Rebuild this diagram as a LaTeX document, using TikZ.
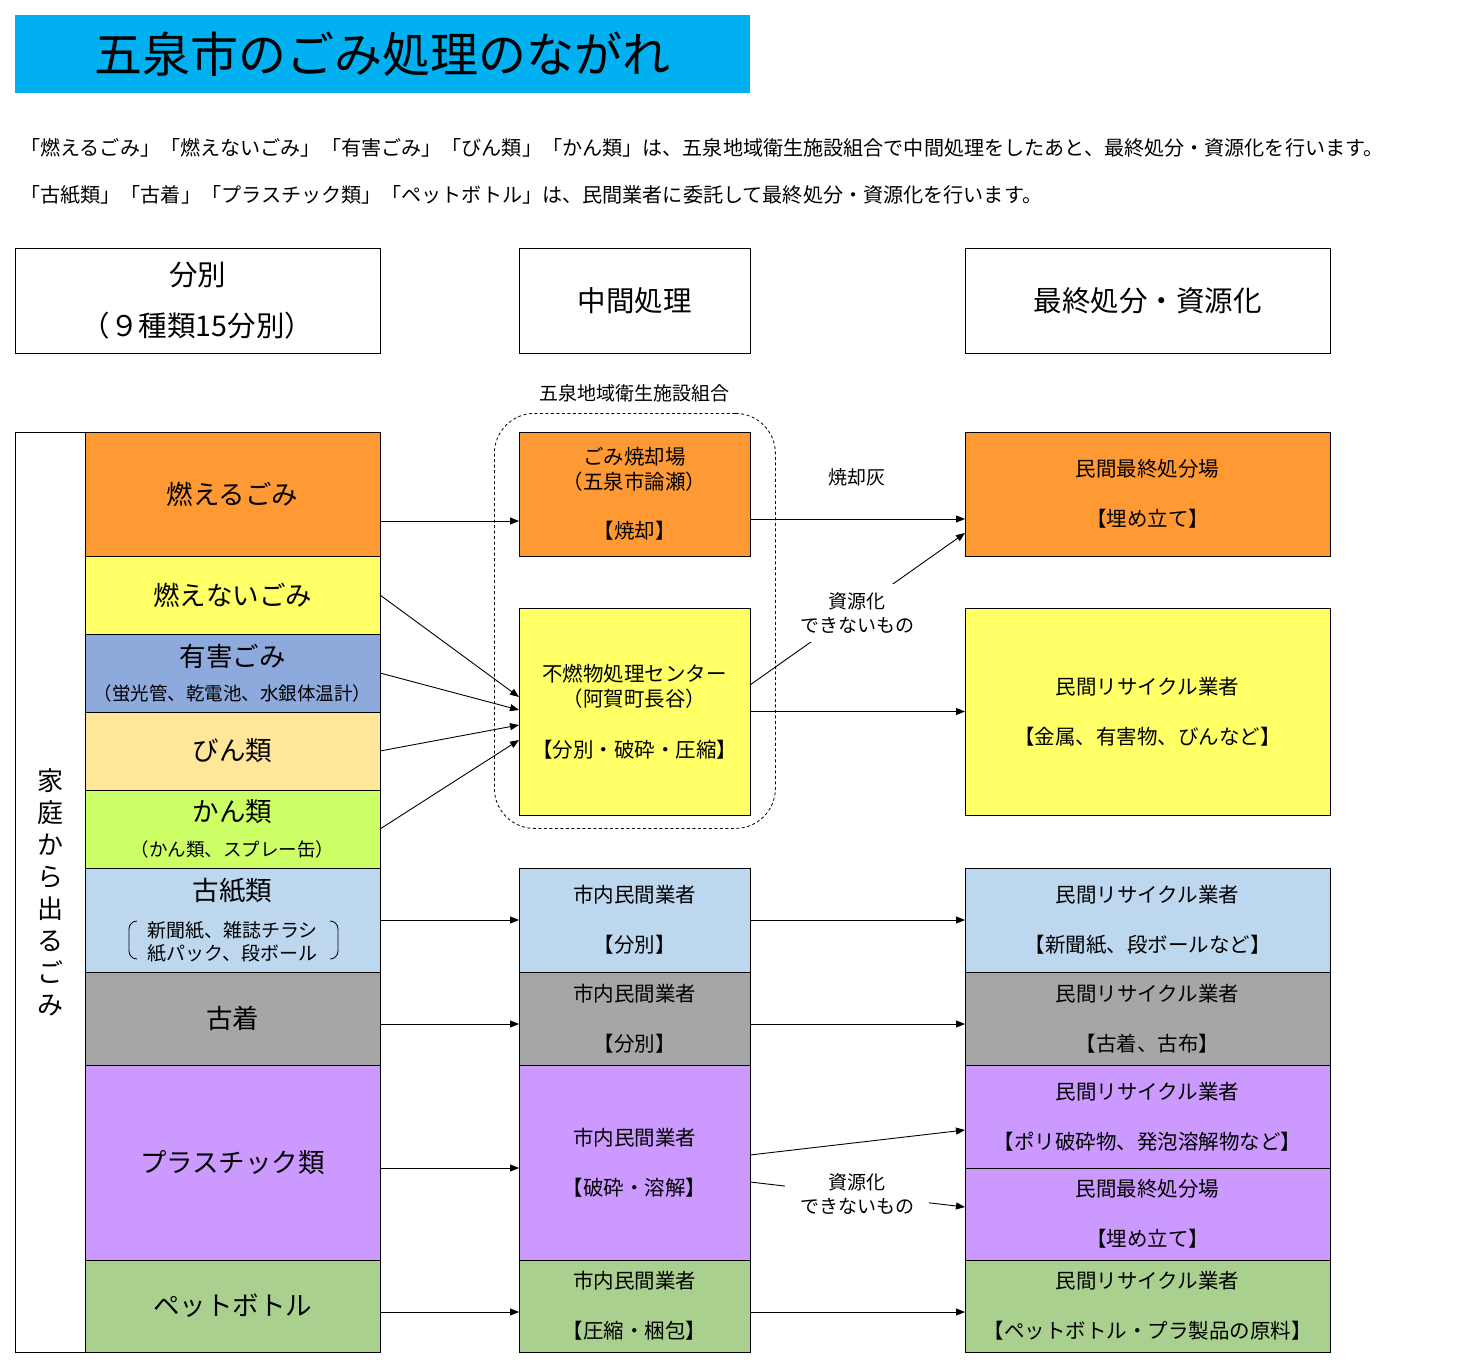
\documentclass[tikz,border=0pt]{standalone}
\usepackage{fontspec}
\setmainfont{Noto Sans CJK JP}
\usetikzlibrary{arrows.meta}
\definecolor{cTitle}{RGB}{0,176,240}
\definecolor{cOrange}{RGB}{255,153,51}
\definecolor{cYellow}{RGB}{255,255,102}
\definecolor{cBlue}{RGB}{142,169,219}
\definecolor{cBin}{RGB}{255,230,153}
\definecolor{cKan}{RGB}{204,255,102}
\definecolor{cPaper}{RGB}{189,215,238}
\definecolor{cGray}{RGB}{166,166,166}
\definecolor{cPurple}{RGB}{204,153,255}
\definecolor{cGreen}{RGB}{169,208,142}
\newcommand\szTitle{\fontsize{48}{50}\selectfont}
\newcommand\szDesc{\fontsize{20.1}{24}\selectfont}
\newcommand\szHead{\fontsize{28.5}{51}\selectfont}
\newcommand\szCat{\fontsize{26.5}{32}\selectfont}
\newcommand\szBox{\fontsize{20.5}{24.8}\selectfont}
\newcommand\szLbl{\fontsize{19}{24}\selectfont}
\tikzset{
  box/.style={draw=black, line width=1pt, anchor=north west, inner sep=0pt, outer sep=0pt, align=center},
  catbox/.style={box, minimum width=295pt, font=\szCat},
  midbox/.style={box, minimum width=231pt, font=\szBox},
  rbox/.style={box, minimum width=365pt, font=\szBox},
  arr/.style={-{Triangle[length=9pt,width=7pt]}, line width=0.9pt},
  lbl/.style={font=\szLbl, align=center, inner sep=0pt},
}
\begin{document}
\begin{tikzpicture}[x=1pt,y=-1pt]
\useasboundingbox (0,0) rectangle (1470,1367);
% title
\node[fill=cTitle, minimum width=735pt, minimum height=78pt, anchor=north west, inner sep=0pt, font=\szTitle] (title) at (15,15) {五泉市のごみ処理のながれ};
% description
\node[anchor=west, font=\szDesc, inner sep=0pt] (desc1) at (20,148) {「燃えるごみ」「燃えないごみ」「有害ごみ」「びん類」「かん類」は、五泉地域衛生施設組合で中間処理をしたあと、最終処分・資源化を行います。};
\node[anchor=west, font=\szDesc, inner sep=0pt] (desc2) at (20,195) {「古紙類」「古着」「プラスチック類」「ペットボトル」は、民間業者に委託して最終処分・資源化を行います。};
% headers
\node[box, minimum width=365pt, minimum height=104pt, font=\szHead] (h1) at (15,249) {分別\\（９種類15分別）};
\node[box, minimum width=231pt, minimum height=104pt, font=\szHead] (h2) at (519,249) {中間処理};
\node[box, minimum width=365pt, minimum height=104pt, font=\szHead] (h3) at (965,249) {最終処分・資源化};
% left outer column
\node[box, minimum width=70pt, minimum height=920pt] (home) at (15,432) {};
\node[font=\fontsize{26}{32}\selectfont, align=center, inner sep=0pt] (homelbl) at (home.center) {家\\庭\\か\\ら\\出\\る\\ご\\み};
% categories
\node[catbox, fill=cOrange, minimum height=124pt] (moe) at (85,432) {燃えるごみ};
\node[catbox, fill=cYellow, minimum height=78pt] (funen) at (85,556) {燃えないごみ};
\node[catbox, fill=cBlue, minimum height=78pt, font=\fontsize{18.5}{34}\selectfont] (yugai) at (85,634) {{\szCat 有害ごみ}\\（蛍光管、乾電池、水銀体温計）};
\node[catbox, fill=cBin, minimum height=78pt] (bin) at (85,712) {びん類};
\node[catbox, fill=cKan, minimum height=78pt, font=\fontsize{18.5}{35}\selectfont] (kan) at (85,790) {{\szCat かん類}\\（かん類、スプレー缶）};
\node[catbox, fill=cPaper, minimum height=104pt, font=\fontsize{19}{23}\selectfont] (koshi) at (85,868) {{\szCat 古紙類}\\[14pt]新聞紙、雑誌チラシ\\紙パック、段ボール};
\node[catbox, fill=cGray, minimum height=93pt] (furugi) at (85,972) {古着};
\node[catbox, fill=cPurple, minimum height=195pt] (pla) at (85,1065) {プラスチック類};
\node[catbox, fill=cGreen, minimum height=92pt] (pet) at (85,1260) {ペットボトル};
% brackets of koshi
\draw[line width=0.8pt] (137,921) to[out=180,in=90] (129,929) -- (129,951) to[out=-90,in=180] (137,959);
\draw[line width=0.8pt] (330,921) to[out=0,in=90] (338,929) -- (338,951) to[out=-90,in=0] (330,959);
% group
\node[draw, dashed, dash pattern=on 3pt off 2.5pt, rounded corners=40pt, line width=0.8pt, minimum width=281pt, minimum height=415pt, anchor=north west, inner sep=0pt] (grp) at (494,413) {};
\node[lbl] (grplbl) at (634.5,393) {五泉地域衛生施設組合};
% middle
\node[midbox, fill=cOrange, minimum height=124pt] (shou) at (519,432) {ごみ焼却場\\（五泉市論瀬）\\[24.8pt]【焼却】};
\node[midbox, fill=cYellow, minimum height=207pt] (mfun) at (519,608) {不燃物処理センター\\（阿賀町長谷）\\[26pt]【分別・破砕・圧縮】};
\node[midbox, fill=cPaper, minimum height=104pt] (mkoshi) at (519,868) {市内民間業者\\[24.8pt]【分別】};
\node[midbox, fill=cGray, minimum height=93pt] (mfurugi) at (519,972) {市内民間業者\\[24.8pt]【分別】};
\node[midbox, fill=cPurple, minimum height=195pt] (mpla) at (519,1065) {市内民間業者\\[24.8pt]【破砕・溶解】};
\node[midbox, fill=cGreen, minimum height=92pt] (mpet) at (519,1260) {市内民間業者\\[24.8pt]【圧縮・梱包】};
% right
\node[rbox, fill=cOrange, minimum height=124pt] (r1) at (965,432) {民間最終処分場\\[24.8pt]【埋め立て】};
\node[rbox, fill=cYellow, minimum height=207pt] (r2) at (965,608) {民間リサイクル業者\\[24.8pt]【金属、有害物、びんなど】};
\node[rbox, fill=cPaper, minimum height=104pt] (r3) at (965,868) {民間リサイクル業者\\[24.8pt]【新聞紙、段ボールなど】};
\node[rbox, fill=cGray, minimum height=93pt] (r4) at (965,972) {民間リサイクル業者\\[24.8pt]【古着、古布】};
\node[rbox, fill=cPurple, minimum height=103pt] (r5) at (965,1065) {民間リサイクル業者\\[24.8pt]【ポリ破砕物、発泡溶解物など】};
\node[rbox, fill=cPurple, minimum height=92pt] (r6) at (965,1168) {民間最終処分場\\[24.8pt]【埋め立て】};
\node[rbox, fill=cGreen, minimum height=92pt] (r7) at (965,1260) {民間リサイクル業者\\[24.8pt]【ペットボトル・プラ製品の原料】};
% arrows left -> middle
\draw[arr] ([yshift=-27pt]moe.east) -- ([yshift=-27pt]shou.west);
\draw[arr] (funen.east) -- ([yshift=14.5pt]mfun.west);
\draw[arr] (yugai.east) -- ([yshift=1.5pt]mfun.west);
\draw[arr] (bin.east) -- ([yshift=-13.5pt]mfun.west);
\draw[arr] (kan.east) -- ([yshift=-28.5pt]mfun.west);
\draw[arr] (koshi.east) -- (mkoshi.west);
\draw[arr] ([yshift=-5.5pt]furugi.east) -- ([yshift=-5.5pt]mfurugi.west);
\draw[arr] ([yshift=-5.5pt]pla.east) -- ([yshift=-5.5pt]mpla.west);
\draw[arr] ([yshift=-6pt]pet.east) -- ([yshift=-6pt]mpet.west);
% arrows middle -> right
\draw[arr] ([yshift=-25pt]shou.east) -- ([yshift=-25pt]r1.west);
\node[lbl] (ash) at (857,477) {焼却灰};
\draw[arr] ([yshift=26.5pt]mfun.east) -- ([yshift=-39pt]r1.west);
\node[lbl, fill=white, inner xsep=4pt, inner ysep=9pt] (nr1) at (857,613) {資源化\\できないもの};
\draw[arr] (mfun.east) -- (r2.west);
\draw[arr] (mkoshi.east) -- (r3.west);
\draw[arr] ([yshift=-5.5pt]mfurugi.east) -- ([yshift=-5.5pt]r4.west);
\draw[arr] ([yshift=7.5pt]mpla.east) -- ([yshift=-13.5pt]r5.west);
\draw[arr] ([yshift=-19.5pt]mpla.east) -- ([yshift=7pt]r6.west);
\node[lbl, fill=white, inner xsep=15pt, inner ysep=2pt] (nr2) at (857,1194) {資源化\\できないもの};
\draw[arr] ([yshift=-6pt]mpet.east) -- ([yshift=-6pt]r7.west);
\end{tikzpicture}
\end{document}
